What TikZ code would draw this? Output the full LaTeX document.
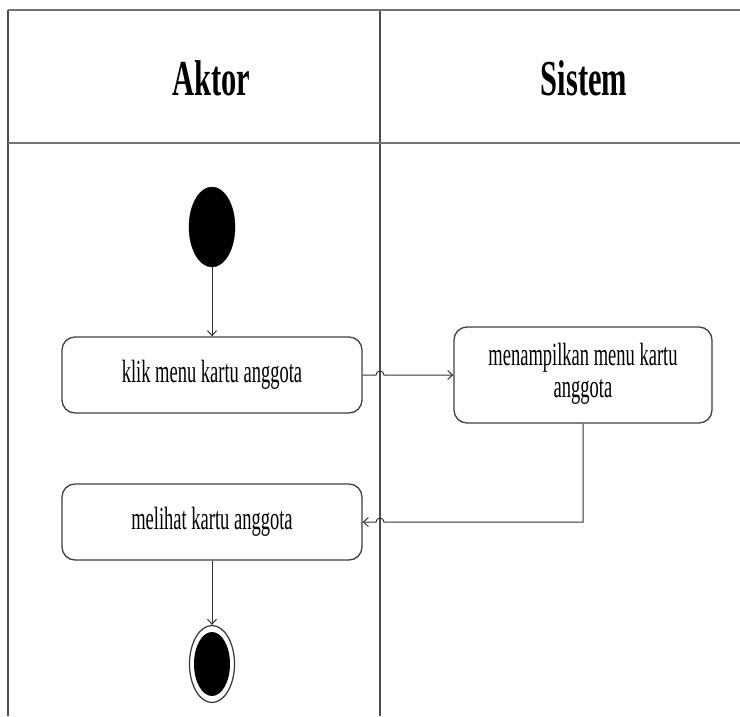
\documentclass[tikz,border=0pt]{standalone}
\usepackage{fontspec}
\setmainfont{Liberation Serif}
\usetikzlibrary{arrows.meta,shapes.geometric}
\newcommand{\vst}[1]{\scalebox{1}[1.74]{#1}}
\begin{document}
\begin{tikzpicture}[x=1pt,y=-1pt,
  lane/.style={draw=black!70, line width=1.3pt},
  hline/.style={draw=black!55, line width=2.6pt},
  act/.style={draw=black!75, line width=1.3pt, rounded corners=13pt, inner sep=0pt,
    font=\fontsize{18.5}{18.5}\selectfont},
  flow/.style={draw=black!80, line width=1pt, -{Straight Barb[length=5pt,width=9pt]}},
  hdr/.style={font=\fontsize{30.5}{30.5}\selectfont\bfseries, anchor=base, inner sep=0pt},
  startnode/.style={ellipse, fill=black, draw=black, minimum width=46pt, minimum height=80pt, inner sep=0pt},
  endouter/.style={ellipse, draw=black!80, line width=1.2pt, fill=white, minimum width=45pt, minimum height=77pt, inner sep=0pt},
  endinner/.style={ellipse, fill=black, minimum width=36pt, minimum height=64pt, inner sep=0pt}
]
\useasboundingbox (0,0) rectangle (740,716);
\fill[white] (0,0) rectangle (740,716);

% swimlane frame
\draw[lane] (8,10) -- (8,716);
\draw[lane] (380,10) -- (380,716);
\draw[hline] (8,10) -- (740,10);
\draw[hline] (8,143) -- (740,143);

% headers
\node[hdr] (aktor) at (211,95) {\scalebox{1}[1.65]{Aktor}};
\node[hdr] (sistem) at (584,95) {\scalebox{1}[1.65]{Sistem}};

% nodes
\node[startnode] (start) at (212,227) {};
\node[act, minimum width=300pt, minimum height=76pt] (b1) at (212,375) {\vst{klik menu kartu anggota}};
\node[act, minimum width=258pt, minimum height=96pt] (b2) at (583,375)
  {\raisebox{6pt}{\vst{\begin{tabular}{@{}c@{}}menampilkan menu kartu\\anggota\end{tabular}}}};
\node[act, minimum width=300pt, minimum height=76pt] (b3) at (212,522) {\vst{melihat kartu anggota}};
\node[endouter] (end) at (212,664) {};
\node[endinner] (endin) at (212,664) {};

% connectors
\draw[flow] (start) -- (b1);
\coordinate (j1) at (376,375);
\draw[flow] (b1.east) -- (j1) arc[start angle=180,end angle=360,radius=4] -- (b2.west);
\coordinate (c1) at (583,522);
\coordinate (j2) at (384,522);
\draw[flow] (b2.south) -- (c1) -- (j2) arc[start angle=0,end angle=-180,radius=4] -- (b3.east);
\draw[flow] (b3) -- (end);
\end{tikzpicture}
\end{document}
